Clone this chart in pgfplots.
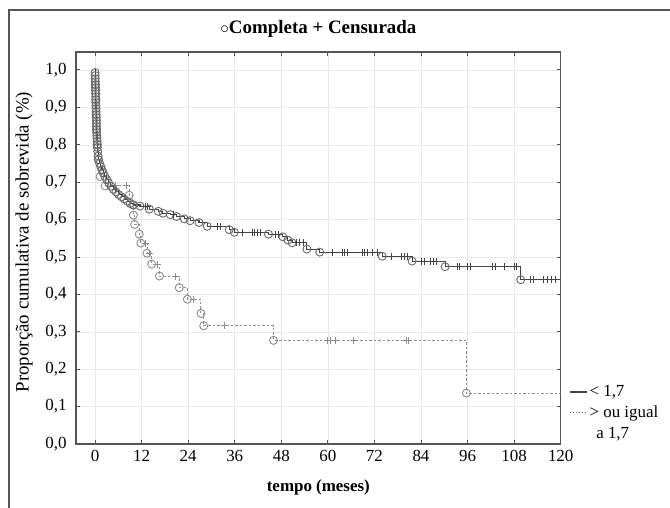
\documentclass[border=0pt]{standalone}
\usepackage{fontspec}
\setmainfont{Liberation Serif}
\usepackage{pgfplots}
\usepackage{pgfplotstable}
\pgfplotsset{compat=1.18}
\newcommand\fs{\fontsize{17}{20}\selectfont}
\definecolor{sone}{HTML}{434343}
\definecolor{stwo}{HTML}{8C8C8C}
\definecolor{frame}{HTML}{555555}

% series 1: < 1,7 (events)
\pgfplotstableread{
t S
0 1.000
0.02 0.993
0.04 0.985
0.06 0.977
0.08 0.969
0.10 0.961
0.12 0.953
0.14 0.945
0.16 0.937
0.18 0.929
0.20 0.921
0.22 0.913
0.24 0.905
0.26 0.897
0.28 0.889
0.30 0.881
0.32 0.873
0.34 0.865
0.36 0.857
0.38 0.849
0.40 0.841
0.43 0.833
0.46 0.825
0.50 0.817
0.54 0.809
0.58 0.801
0.63 0.793
0.70 0.782
0.80 0.770
0.95 0.760
1.2 0.750
1.5 0.741
1.8 0.733
2.1 0.725
2.5 0.716
3.0 0.707
3.5 0.698
4.1 0.689
4.7 0.681
5.4 0.674
6.1 0.667
6.8 0.661
7.5 0.655
8.3 0.649
9.1 0.643
10.0 0.639
11.6 0.636
14.0 0.628
16.3 0.622
17.5 0.617
19.4 0.613
21.0 0.608
23.0 0.602
24.5 0.597
26.8 0.592
28.9 0.582
34.6 0.573
35.9 0.566
44.7 0.561
48.4 0.554
49.7 0.545
50.8 0.538
54.6 0.521
57.9 0.513
74.0 0.502
81.7 0.489
90.2 0.474
109.7 0.439
120 0.439
}\evone

% series 1 censored
\pgfplotstableread{
t S
13.0 0.636
13.6 0.636
20.2 0.613
31.5 0.582
32.3 0.582
38.0 0.566
40.5 0.566
41.2 0.566
41.8 0.566
42.6 0.566
46.5 0.561
47.2 0.561
52.0 0.538
52.8 0.538
53.6 0.538
61.1 0.513
63.7 0.513
64.3 0.513
65.0 0.513
68.9 0.513
69.5 0.513
70.1 0.513
71.4 0.513
72.7 0.513
76.5 0.502
79.0 0.502
79.7 0.502
80.4 0.502
84.0 0.489
85.0 0.489
86.4 0.489
87.2 0.489
88.0 0.489
93.3 0.474
93.8 0.474
96.0 0.474
96.7 0.474
102.3 0.474
103.2 0.474
105.4 0.474
108.0 0.474
108.5 0.474
112.3 0.439
113.0 0.439
115.6 0.439
116.6 0.439
117.6 0.439
118.6 0.439
}\ceone

% series 2: > ou igual a 1,7 (events)
\pgfplotstableread{
t S
0 1.000
0.10 0.960
0.20 0.920
0.30 0.880
0.40 0.840
0.55 0.800
0.80 0.760
1.30 0.715
2.60 0.690
8.8 0.665
9.7 0.639
9.9 0.612
10.2 0.587
11.4 0.561
11.8 0.537
13.4 0.510
14.6 0.481
16.6 0.449
21.7 0.418
23.8 0.387
27.3 0.349
28.0 0.316
46.0 0.277
95.7 0.136
120 0.136
}\evtwo

% series 2 censored
\pgfplotstableread{
t S
5.2 0.690
8.0 0.690
13.0 0.537
14.0 0.510
16.0 0.481
20.8 0.449
25.3 0.387
33.4 0.316
59.8 0.277
60.6 0.277
62.0 0.277
66.7 0.277
80.2 0.277
80.8 0.277
}\cetwo

\begin{document}
\begin{tikzpicture}
\useasboundingbox (0,0) rectangle (670bp,508bp);
\draw[frame, line width=1.2bp] (9bp,0) -- (9bp,498bp) -- (670bp,498bp);
\begin{axis}[
  at={(76bp,64bp)}, anchor=south west,
  scale only axis, width=484.7bp, height=392bp,
  xmin=-4.9, xmax=120, ymin=0, ymax=1.048,
  xtick={0,12,...,120},
  ytick={0,0.1,...,1.0},
  grid=major,
  grid style={line width=0.5bp, draw=black!9},
  axis line style={line width=1.1bp, draw=frame},
  tick style={line width=0.9bp, draw=frame},
  major tick length=4bp,
  tick align=inside,
  ticklabel style={font=\fs},
  /pgf/number format/assume math mode=true,
  yticklabel style={/pgf/number format/.cd, use comma, fixed, fixed zerofill, precision=1, /tikz/.cd, xshift=-6bp},
  xticklabel style={yshift=-3bp},
  title={$\circ$Completa + Censurada},
  title style={font=\fontsize{19}{22}\selectfont\bfseries, at={(rel axis cs:0.5,1)}, anchor=center, yshift=17bp},
  xlabel={tempo (meses)},
  xlabel style={font=\fontsize{17}{20}\selectfont\bfseries, at={(rel axis cs:0.5,-0.11)}, anchor=center},
  ylabel={Proporção cumulativa de sobrevida (\%)},
  ylabel style={font=\fontsize{19}{22}\selectfont, at={(rel axis cs:-0.107,0.515)}, anchor=center},
  legend style={draw=none, fill=none, at={(rel axis cs:1,0.155)}, anchor=north west,
    xshift=8bp, font=\fs, row sep=4bp, inner xsep=0bp, inner ysep=0bp},
  legend cell align=left,
]
% series 2 (dashed)
\addplot[forget plot, const plot, color=stwo, line width=1bp, dash pattern=on 2.5bp off 2bp]
  table[x=t, y=S] {\evtwo};
\addplot[forget plot, only marks, mark=o, color=stwo, mark size=4bp, line width=0.9bp,
  mark options={fill=white, solid}, restrict x to domain=0.01:119]
  table[x=t, y=S] {\evtwo};
\addplot[forget plot, only marks, mark=+, color=stwo, mark size=3.5bp, line width=0.9bp]
  table[x=t, y=S] {\cetwo};
% series 1 (solid)
\addplot[forget plot, const plot, color=sone, line width=1.1bp]
  table[x=t, y=S] {\evone};
\addplot[forget plot, only marks, mark=o, color=sone!80, mark size=4bp, line width=0.9bp,
  mark options={fill=white}, restrict x to domain=0.01:119]
  table[x=t, y=S] {\evone};
\addplot[forget plot, only marks, mark=+, color=sone, mark size=3.5bp, line width=0.9bp]
  table[x=t, y=S] {\ceone};
% legend
\addlegendimage{color=sone, line width=1.6bp}
\addlegendentry{< 1,7}
\addlegendimage{color=stwo!80!black, line width=1bp, dash pattern=on 1.5bp off 1.5bp}
\addlegendentry{> ou igual}
\addlegendimage{empty legend}
\addlegendentry{\hspace*{0.4em}a 1,7}
\end{axis}
\end{tikzpicture}
\end{document}
